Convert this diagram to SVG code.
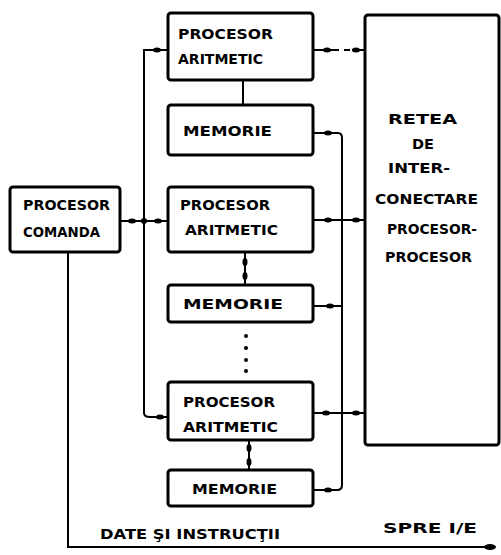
<svg xmlns="http://www.w3.org/2000/svg" width="501" height="555" viewBox="0 0 501 555">
<style>
.box{fill:#fff;stroke:#000;stroke-width:3;}
.ln{fill:none;stroke:#000;stroke-width:2;}
.dash{fill:none;stroke:#000;stroke-width:2;stroke-dasharray:6 5;}
.dot{fill:#000;}
text{font-family:"DejaVu Sans","Liberation Sans",Arial,sans-serif;font-weight:bold;font-size:14px;fill:#000;}
</style>
<rect width="501" height="555" fill="#fff"/>
<g id="connectors">
  <path class="ln" d="M168,50 H144 V413 Q144,417 150,417 H168"/>
  <path class="ln" d="M120,221 H168"/>
  <ellipse class="dot" cx="157" cy="50" rx="4" ry="2.5"/>
  <ellipse class="dot" cx="132" cy="221" rx="4" ry="2.5"/>
  <ellipse class="dot" cx="144" cy="221" rx="3" ry="3"/>
  <ellipse class="dot" cx="158" cy="221" rx="4" ry="2.5"/>
  <ellipse class="dot" cx="160" cy="417" rx="4" ry="2.5"/>
  <path class="ln" d="M243,80 V105"/>
  <path class="ln" d="M245,252 V285"/>
  <ellipse class="dot" cx="245" cy="262" rx="2.5" ry="4"/>
  <ellipse class="dot" cx="245" cy="276" rx="2.5" ry="4"/>
  <path class="ln" d="M249,440 V470"/>
  <ellipse class="dot" cx="249" cy="448" rx="2.5" ry="4"/>
  <ellipse class="dot" cx="249" cy="462" rx="2.5" ry="4"/>
  <circle class="dot" cx="246" cy="336" r="2"/>
  <circle class="dot" cx="246" cy="348" r="2"/>
  <circle class="dot" cx="246" cy="360" r="2"/>
  <circle class="dot" cx="246" cy="371" r="2"/>
  <path class="ln" d="M313,133 H338 Q342,133 342,138 V485 Q342,490 337,490 H313"/>
  <path class="ln" d="M313,306 H342"/>
  <ellipse class="dot" cx="328" cy="133" rx="4" ry="2.5"/>
  <ellipse class="dot" cx="330" cy="306" rx="4" ry="2.5"/>
  <ellipse class="dot" cx="328" cy="490" rx="4" ry="2.5"/>
  <path class="ln" d="M313,50 H333"/>
  <path class="dash" d="M333,50 H352"/>
  <path class="ln" d="M352,50 H365"/>
  <ellipse class="dot" cx="327" cy="50" rx="4" ry="2.5"/>
  <ellipse class="dot" cx="356" cy="50" rx="4" ry="2.5"/>
  <path class="ln" d="M313,220 H365"/>
  <ellipse class="dot" cx="328" cy="220" rx="4" ry="2.5"/>
  <ellipse class="dot" cx="356" cy="220" rx="4" ry="2.5"/>
  <path class="ln" d="M313,413 H365"/>
  <ellipse class="dot" cx="326" cy="413" rx="4" ry="2.5"/>
  <ellipse class="dot" cx="356" cy="413" rx="4" ry="2.5"/>
  <path class="ln" d="M68,252 V547 H492"/>
  <ellipse class="dot" cx="490" cy="547" rx="6" ry="3"/>
</g>
<g id="procesor-comanda">
  <rect class="box" x="10" y="187" width="110" height="65" rx="3"/>
  <text x="23" y="210" textLength="87" lengthAdjust="spacingAndGlyphs">PROCESOR</text>
  <text x="23" y="237" textLength="77" lengthAdjust="spacingAndGlyphs">COMANDA</text>
</g>
<g id="procesor-aritmetic-1">
  <rect class="box" x="168" y="13" width="145" height="67" rx="3"/>
  <text x="178" y="39" textLength="95" lengthAdjust="spacingAndGlyphs">PROCESOR</text>
  <text x="178" y="64" textLength="85" lengthAdjust="spacingAndGlyphs">ARITMETIC</text>
</g>
<g id="memorie-1">
  <rect class="box" x="168" y="105" width="145" height="50" rx="3"/>
  <text x="183" y="136" textLength="89" lengthAdjust="spacingAndGlyphs">MEMORIE</text>
</g>
<g id="procesor-aritmetic-2">
  <rect class="box" x="168" y="187" width="145" height="65" rx="3"/>
  <text x="180" y="210" textLength="90" lengthAdjust="spacingAndGlyphs">PROCESOR</text>
  <text x="185" y="235" textLength="93" lengthAdjust="spacingAndGlyphs">ARITMETIC</text>
</g>
<g id="memorie-2">
  <rect class="box" x="168" y="285" width="145" height="37" rx="3"/>
  <text x="183" y="309" textLength="100" lengthAdjust="spacingAndGlyphs">MEMORIE</text>
</g>
<g id="procesor-aritmetic-3">
  <rect class="box" x="168" y="382" width="145" height="58" rx="3"/>
  <text x="183" y="407" textLength="92" lengthAdjust="spacingAndGlyphs">PROCESOR</text>
  <text x="183" y="432" textLength="95" lengthAdjust="spacingAndGlyphs">ARITMETIC</text>
</g>
<g id="memorie-3">
  <rect class="box" x="168" y="470" width="145" height="36" rx="3"/>
  <text x="192" y="494" textLength="85" lengthAdjust="spacingAndGlyphs">MEMORIE</text>
</g>
<g id="retea">
  <rect class="box" x="365" y="15" width="134" height="430" rx="3"/>
  <text x="388" y="124" textLength="69" lengthAdjust="spacingAndGlyphs">RETEA</text>
  <text x="412" y="149" textLength="22" lengthAdjust="spacingAndGlyphs">DE</text>
  <text x="388" y="173" textLength="62" lengthAdjust="spacingAndGlyphs">INTER-</text>
  <text x="375" y="204" textLength="103" lengthAdjust="spacingAndGlyphs">CONECTARE</text>
  <text x="387" y="234" textLength="90" lengthAdjust="spacingAndGlyphs">PROCESOR-</text>
  <text x="385" y="262" textLength="87" lengthAdjust="spacingAndGlyphs">PROCESOR</text>
</g>
<g id="labels">
  <text x="100" y="539" textLength="180" lengthAdjust="spacingAndGlyphs">DATE ŞI INSTRUCŢII</text>
  <text x="383" y="533" textLength="94" lengthAdjust="spacingAndGlyphs">SPRE I/E</text>
</g>
</svg>
